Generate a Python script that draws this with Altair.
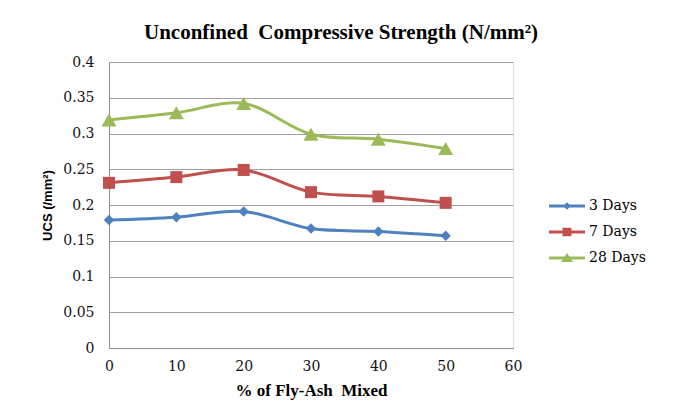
import altair as alt
import pandas as pd

# ---- data ----
fly_ash = [0, 10, 20, 30, 40, 50]
series_names = ["3 Days", "7 Days", "28 Days"]
ucs_3 = [0.179, 0.183, 0.191, 0.167, 0.163, 0.157]
ucs_7 = [0.231, 0.239, 0.249, 0.218, 0.212, 0.203]
ucs_28 = [0.319, 0.329, 0.342, 0.299, 0.292, 0.279]
x_ticks = [0, 10, 20, 30, 40, 50, 60]
y_ticks = [0, 0.05, 0.1, 0.15, 0.2, 0.25, 0.3, 0.35, 0.4]

# ---- styles ----
colors = ["#4F81BD", "#C0504D", "#9BBB59"]
marker_shapes = ["diamond", "square", "triangle-up"]
marker_sizes = [110, 144, 225]
bar = "M-2,-0.17 L2,-0.17 L2,0.17 L-2,0.17 Z "
legend_shapes = [
    bar + "M0,-0.42 L0.42,0 L0,0.42 L-0.42,0 Z",
    bar + "M-0.5,-0.48 L0.5,-0.48 L0.5,0.48 L-0.5,0.48 Z",
    bar + "M0,-0.55 L0.67,0.45 L-0.67,0.45 Z",
]

rows = []
for name, vals in zip(series_names, [ucs_3, ucs_7, ucs_28]):
    for xv, yv in zip(fly_ash, vals):
        rows.append({"x": xv, "ucs": yv, "series": name})
df = pd.DataFrame(rows)

SERIF = "DejaVu Serif"

x_enc = alt.X(
    "x:Q",
    scale=alt.Scale(domain=[0, 60], nice=False),
    axis=alt.Axis(
        values=x_ticks, grid=False, ticks=False, labelPadding=11,
        labelFont=SERIF, labelFontSize=14, labelColor="#111",
        title="% of Fly-Ash\u00a0 Mixed", titleFont="Liberation Serif",
        titleFontSize=17, titleFontWeight="bold", titleColor="#000",
        titleBaseline="alphabetic", titleY=47,
        domainColor="#8c8c8c", labelFlush=False,
    ),
)
y_enc = alt.Y(
    "ucs:Q",
    scale=alt.Scale(domain=[0, 0.4], nice=False),
    axis=alt.Axis(
        values=y_ticks, format="~g", grid=True, ticks=False, labelPadding=15,
        labelFont=SERIF, labelFontSize=14, labelColor="#111",
        title="UCS (/mm²)", titleFont="Liberation Sans", titleFontSize=13,
        titleFontWeight="bold", titleColor="#000", titleAngle=270,
        titleBaseline="middle", titleX=-62, titleY=143,
        gridColor="#a0a0a0", domainColor="#8c8c8c",
    ),
)

base = alt.Chart(df)
layers = []
for name, col in zip(series_names, colors):
    sub = base.transform_filter(alt.datum.series == name)
    layers.append(
        sub.mark_line(interpolate="catmull-rom", strokeWidth=3, color=col)
        .encode(x=x_enc, y=y_enc)
    )
for name, col, shp, sz in zip(series_names, colors, marker_shapes, marker_sizes):
    sub = base.transform_filter(alt.datum.series == name)
    layers.append(
        sub.mark_point(filled=True, opacity=1, shape=shp, size=sz, color=col)
        .encode(x=x_enc, y=y_enc)
    )

legend = alt.Legend(
    title=None, orient="none", legendX=449, legendY=135,
    symbolSize=324, symbolStrokeWidth=0, labelOffset=13,
    labelFont=SERIF, labelFontSize=14, labelColor="#000",
    rowPadding=10, padding=0,
)
legend_layer = (
    base.transform_filter(alt.datum.x < 0)
    .mark_point(filled=True, opacity=1)
    .encode(
        x=x_enc, y=y_enc,
        color=alt.Color("series:N", scale=alt.Scale(domain=series_names, range=colors), legend=legend),
        shape=alt.Shape("series:N", scale=alt.Scale(domain=series_names, range=legend_shapes), legend=legend),
    )
)
layers.append(legend_layer)

chart = (
    alt.layer(*layers)
    .properties(
        width=404, height=286,
        autosize=alt.AutoSizeParams(type="none"),
        padding={"left": 101, "top": 54, "right": 152, "bottom": 58},
        title=alt.TitleParams(
            text="Unconfined\u00a0 Compressive Strength (N/mm²)",
            font="Liberation Serif", fontSize=21, fontWeight="bold",
            color="#000", anchor="middle", dx=30, offset=12,
        ),
    )
    .configure_view(stroke=None)
    .configure(background="white")
)

chart.save("out.html", embed_options={"renderer": "svg", "actions": False})
